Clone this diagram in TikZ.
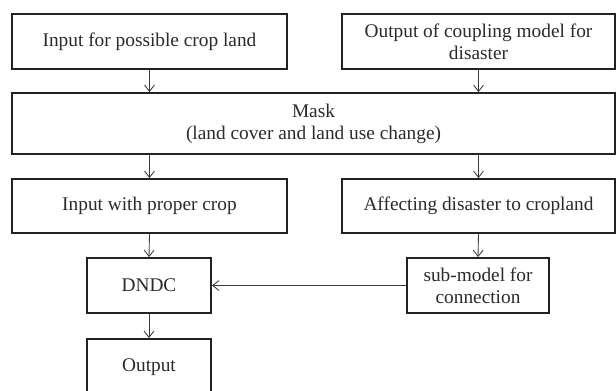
\documentclass[tikz,border=0pt]{standalone}
\usepackage{fontspec}
\setmainfont{Liberation Serif}
\usepackage{tikz}
\usetikzlibrary{arrows.meta, positioning}
\definecolor{boxline} {HTML}{222222}
\definecolor{arrowcol}{HTML}{3A3A3A}
\definecolor{darktext}{HTML}{2A2A2A}
\tikzset{
  flowbox/.style={
    rectangle, draw=boxline, line width=1.3pt,
    minimum width=#1, text centered, align=center,
    font=\fontsize{13.75}{15.8}\selectfont, text=darktext, inner sep=2pt
  },
  myarrow/.style={-{Straight Barb[length=4.5pt,width=7pt]}, line width=0.6pt, color=arrowcol}
}

\begin{document}
\begin{tikzpicture}[x=0.025cm, y=-0.025cm]

  \useasboundingbox (0,0) rectangle (616,390);

  \node[flowbox=6.875cm, minimum height=1.375cm] (inland) at (149.5,41.5)
    {Input for possible crop land};
  \node[flowbox=6.825cm, minimum height=1.375cm] (coupling) at (478.5,41.5)
    {Output of coupling model for\\disaster};

  \node[flowbox=15.075cm, minimum height=1.525cm] (mask) at (313.5,123.5)
    {Mask\\(land cover and land use change)};

  \node[flowbox=6.875cm, minimum height=1.35cm] (crop) at (149.5,206)
    {Input with proper crop};
  \node[flowbox=6.825cm, minimum height=1.35cm] (affect) at (478.5,206)
    {Affecting disaster to cropland};

  \node[flowbox=3.1cm, minimum height=1.375cm] (dndc) at (149,285.5)
    {DNDC};
  \node[flowbox=3.55cm, minimum height=1.375cm] (submod) at (478,285.5)
    {sub-model for\\connection};

  \node[flowbox=3.1cm, minimum height=1.4cm] (output) at (149,367)
    {Output};

  % vertical links
  \draw[myarrow] (inland.south) -- (inland.south |- mask.north);
  \draw[myarrow] (coupling.south) -- (coupling.south |- mask.north);
  \draw[myarrow] (crop.north |- mask.south) -- (crop.north);
  \draw[myarrow] (affect.north |- mask.south) -- (affect.north);
  \foreach \a/\b in {crop/dndc, affect/submod, dndc/output}{
    \draw[myarrow] (\a.south) -- (\b.north);
  }
  \draw[myarrow] (submod.west) -- (dndc.east);

\end{tikzpicture}
\end{document}
